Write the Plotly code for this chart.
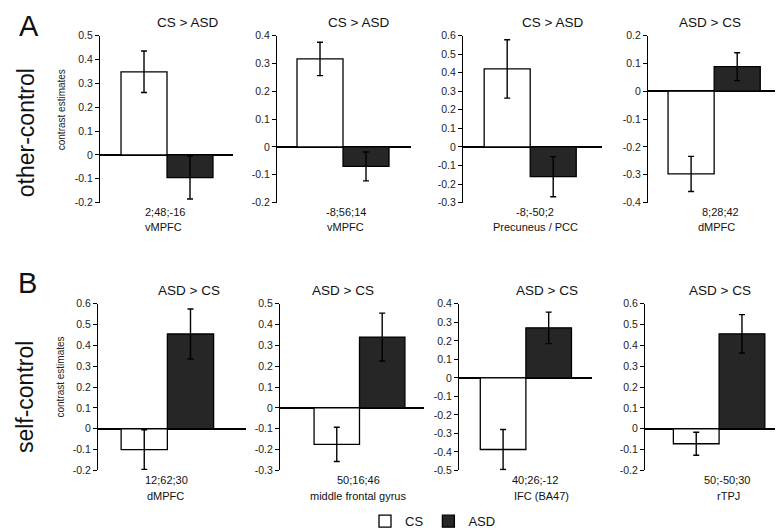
import plotly.graph_objects as go

# ---- data ----
contrasts = ["CS > ASD", "CS > ASD", "CS > ASD", "ASD > CS",
             "ASD > CS", "ASD > CS", "ASD > CS", "ASD > CS"]
coords = ["2;48;-16", "-8;56;14", "-8;-50;2", "8;28;42",
          "12;62;30", "50;16;46", "40;26;-12", "50;-50;30"]
regions = ["vMPFC", "vMPFC", "Precuneus / PCC", "dMPFC",
           "dMPFC", "middle frontal gyrus", "IFC (BA47)", "rTPJ"]
cs_values = [0.348, 0.316, 0.42, -0.297, -0.10, -0.175, -0.387, -0.072]
cs_errors = [0.087, 0.060, 0.157, 0.063, 0.095, 0.082, 0.108, 0.055]
asd_values = [-0.095, -0.07, -0.16, 0.088, 0.455, 0.34, 0.27, 0.456]
asd_errors = [0.090, 0.052, 0.108, 0.050, 0.120, 0.115, 0.085, 0.092]
y_min = [-0.2, -0.2, -0.3, -0.4, -0.2, -0.3, -0.5, -0.2]
y_max = [0.5, 0.4, 0.6, 0.2, 0.6, 0.5, 0.4, 0.6]
groups = ["CS", "ASD"]
row_labels = ["other-control", "self-control"]
panel_letters = ["A", "B"]
y_axis_title = "contrast estimates"

# ---- layout geometry (pixels) ----
W, H = 783, 530
px_x = [(92, 225), (269, 403), (455, 594), (640, 773),
        (90, 238), (272, 416), (451, 584), (637, 782)]
px_y = [(22, 193)] * 4 + [(296.5, 467)] * 4
x_ranges = [(-0.957, 1.935), (-0.935, 1.978), (-0.96, 2.06), (-0.935, 1.95),
            (-1.0, 2.2), (-1.25, 1.92), (-0.967, 1.95), (-1.12, 2.05)]
title_pos = [(179.5, 8.5), (350, 8.5), (544, 8.5), (702, 8.5),
             (181, 283), (335, 283), (538.5, 283), (712, 283)]
coord_pos = [(157, 202.5), (337.5, 202.5), (527, 202.5), (712, 202.5),
             (158, 477), (350, 477), (527, 477), (718.5, 477)]
region_pos = [(155, 217.5), (337, 217.5), (527, 217.5), (708, 217.5),
              (157, 493.5), (350, 493.5), (533, 493.5), (720, 493.5)]

FONT = "Liberation Sans, Arial, sans-serif"
DARK = "#262626"


def px(x):
    return x / W


def py(y):
    return 1 - y / H


fig = go.Figure()
annotations = []

for i in range(8):
    n = "" if i == 0 else str(i + 1)
    xa, ya = "x" + n, "y" + n
    fig.add_trace(go.Bar(
        x=[0], y=[cs_values[i]], width=1, name=groups[0],
        marker=dict(color="white", line=dict(color="black", width=1.3)),
        error_y=dict(type="data", array=[cs_errors[i]], color="black",
                     thickness=1.4, width=3),
        xaxis=xa, yaxis=ya, showlegend=(i == 0), legendgroup="cs"))
    fig.add_trace(go.Bar(
        x=[1], y=[asd_values[i]], width=1, name=groups[1],
        marker=dict(color=DARK, line=dict(color="black", width=1.3)),
        error_y=dict(type="data", array=[asd_errors[i]], color="black",
                     thickness=1.4, width=3),
        xaxis=xa, yaxis=ya, showlegend=(i == 0), legendgroup="asd"))

    nt = int(round((y_max[i] - y_min[i]) / 0.1))
    tv = [round(y_min[i] + 0.1 * k, 1) for k in range(nt + 1)]
    tt = [("%g" % v) for v in tv]

    fig.update_layout(**{
        "xaxis" + n: dict(domain=[px(px_x[i][0]), px(px_x[i][1])],
                          range=list(x_ranges[i]), showgrid=False,
                          zeroline=False, showticklabels=False, ticks="",
                          showline=False, anchor=ya, fixedrange=True),
        "yaxis" + n: dict(domain=[py(px_y[i][1]), py(px_y[i][0])],
                          range=[y_min[i], y_max[i]], tickvals=tv, ticktext=tt,
                          showgrid=False, zeroline=True, zerolinecolor="black",
                          zerolinewidth=1.5, showline=True, linecolor="black",
                          linewidth=1.2, ticks="outside", ticklen=4,
                          tickcolor="black", tickwidth=1,
                          tickfont=dict(family=FONT, size=10.5, color="#222"),
                          anchor=xa, fixedrange=True),
    })

    annotations.append(dict(text=contrasts[i], x=px(title_pos[i][0]),
                            y=py(title_pos[i][1]), xref="paper", yref="paper",
                            showarrow=False, xanchor="center", yanchor="middle",
                            font=dict(family=FONT, size=13.5, color="#111")))
    annotations.append(dict(text=coords[i], x=px(coord_pos[i][0]),
                            y=py(coord_pos[i][1]), xref="paper", yref="paper",
                            showarrow=False, xanchor="center", yanchor="middle",
                            font=dict(family=FONT, size=11, color="#111")))
    annotations.append(dict(text=regions[i], x=px(region_pos[i][0]),
                            y=py(region_pos[i][1]), xref="paper", yref="paper",
                            showarrow=False, xanchor="center", yanchor="middle",
                            font=dict(family=FONT, size=11, color="#111")))

# row labels, panel letters, axis titles
for r, (ly, lx, lety, letx, ay) in enumerate([(122, 18, 12.5, 21, 98.5),
                                              (392, 17, 275, 19.5, 372)]):
    annotations.append(dict(text=row_labels[r], x=px(lx), y=py(ly),
                            xref="paper", yref="paper", showarrow=False,
                            textangle=-90, xanchor="center", yanchor="middle",
                            font=dict(family=FONT, size=23, color="#111")))
    annotations.append(dict(text=panel_letters[r], x=px(letx), y=py(lety),
                            xref="paper", yref="paper", showarrow=False,
                            xanchor="center", yanchor="middle",
                            font=dict(family=FONT, size=29, color="#111")))
    annotations.append(dict(text=y_axis_title, x=px(53), y=py(ay),
                            xref="paper", yref="paper", showarrow=False,
                            textangle=-90, xanchor="center", yanchor="middle",
                            font=dict(family=FONT, size=10, color="#222")))

fig.update_layout(
    width=W, height=H,
    margin=dict(l=0, r=0, t=0, b=0),
    paper_bgcolor="white", plot_bgcolor="white",
    barmode="overlay",
    annotations=annotations,
    showlegend=True,
    legend=dict(orientation="h", x=px(425), y=py(519), xanchor="center",
                yanchor="middle", font=dict(family=FONT, size=13, color="#111"),
                itemwidth=30, bgcolor="rgba(0,0,0,0)", tracegroupgap=0),
)

fig.write_html("out.html")
